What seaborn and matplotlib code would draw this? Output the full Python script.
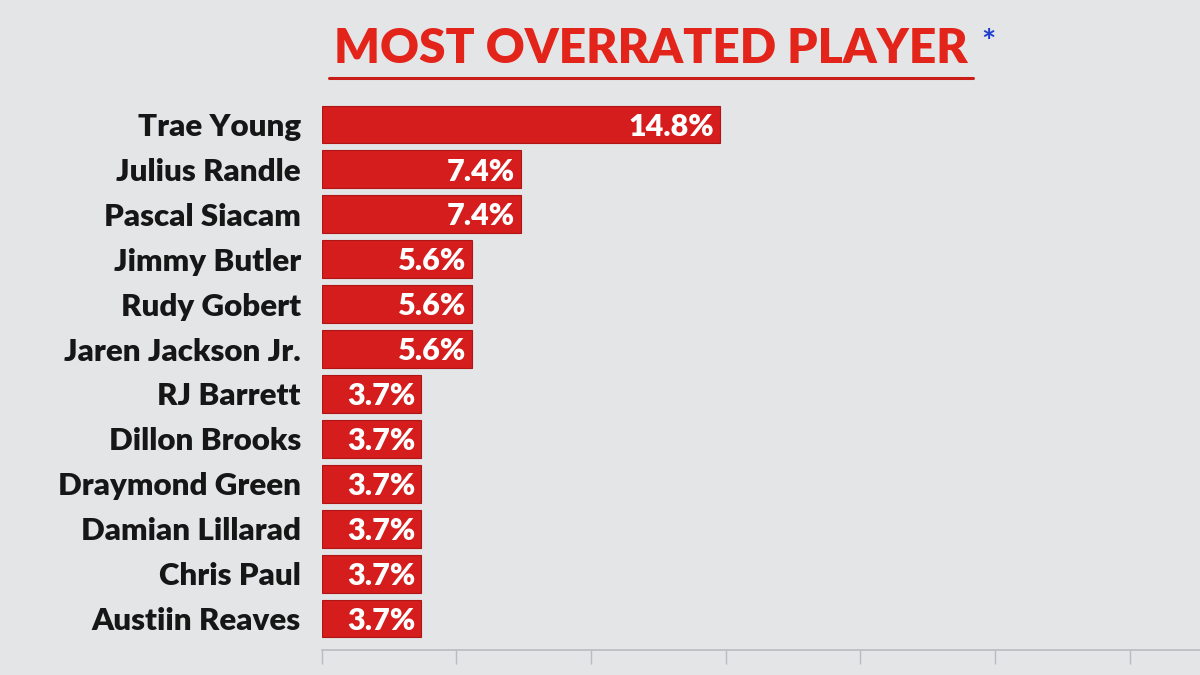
import matplotlib
matplotlib.use("Agg")
import matplotlib.pyplot as plt
from matplotlib.lines import Line2D
import seaborn as sns
import pandas as pd

# Data
players = ["Trae Young", "Julius Randle", "Pascal Siacam", "Jimmy Butler",
           "Rudy Gobert", "Jaren Jackson Jr.", "RJ Barrett", "Dillon Brooks",
           "Draymond Green", "Damian Lillarad", "Chris Paul", "Austiin Reaves"]
shares = [14.8, 7.4, 7.4, 5.6, 5.6, 5.6, 3.7, 3.7, 3.7, 3.7, 3.7, 3.7]
x_ticks = [0, 5, 10, 15, 20, 25, 30]

df = pd.DataFrame({"player": players, "share": shares})

bg = "#e3e5e7"
bar_red = "#d51d1d"

sns.set_theme(style="white")
plt.rcParams["font.family"] = ["Lato", "DejaVu Sans"]

fig = plt.figure(figsize=(12, 6.75), dpi=100, facecolor=bg)
ax = fig.add_axes([0.268, 0.037, 0.732, 0.812])
ax.set_facecolor(bg)

sns.barplot(data=df, x="share", y="player", color=bar_red, width=0.84,
            saturation=1, ax=ax, edgecolor="#b01515", linewidth=0.8)

# value labels inside the bar ends
for i, v in enumerate(shares):
    ax.text(v - 0.22, i + 0.05, f"{v:.1f}%", ha="right", va="center",
            color="white", fontsize=22, fontweight="heavy")

ax.set_xlim(0, 32.6)
ax.set_ylim(11.7, -0.5)
ax.set_xlabel("")
ax.set_ylabel("")
ax.set_xticks(x_ticks)
ax.set_xticklabels([])
ax.tick_params(axis="x", bottom=True, length=10, color="#b9bcbf", width=1)
ax.tick_params(axis="y", left=False, pad=9)
for lbl in ax.get_yticklabels():
    lbl.set_fontsize(22.5)
    lbl.set_fontweight("heavy")
    lbl.set_color("#161616")

for side in ["top", "right", "left"]:
    ax.spines[side].set_visible(False)
ax.spines["bottom"].set_color("#b9bcbf")
ax.spines["bottom"].set_linewidth(1.2)

# title with underline and blue asterisk
fig.text(0.542, 0.928, "MOST OVERRATED PLAYER", ha="center", va="center",
         color="#e3241b", fontsize=34.5, fontweight="heavy")
fig.add_artist(Line2D([0.274, 0.811], [0.885, 0.885], color="#c81e17",
                      linewidth=2.2, transform=fig.transFigure))
fig.text(0.818, 0.935, "*", ha="left", va="center", color="#1d3fd0",
         fontsize=24, fontweight="bold")

fig.savefig("out.png", dpi=100, facecolor=bg)
